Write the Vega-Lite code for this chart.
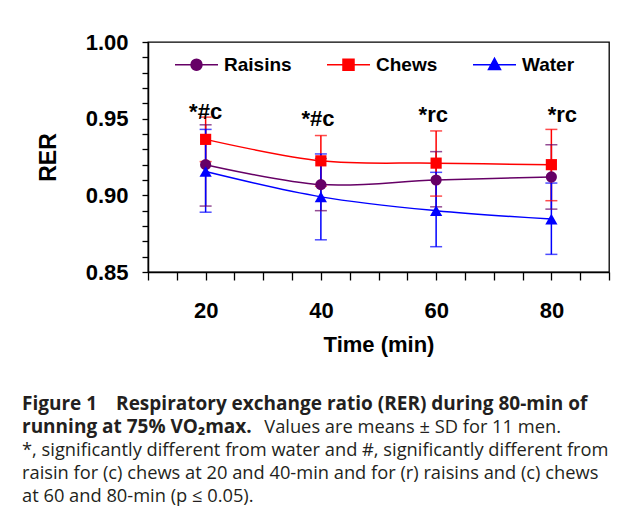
{
  "$schema": "https://vega.github.io/schema/vega-lite/v6.json",
  "width": 461,
  "height": 230,
  "autosize": {"type": "none"},
  "padding": {"left": 148, "top": 42, "right": 12, "bottom": 253},
  "background": "white",
  "config": {
    "view": {"stroke": "#000", "strokeWidth": 1.3},
    "font": "Liberation Sans",
    "axisX": {"values": [10, 20, 30, 40, 50, 60, 70, 80, 90], "tickCount": 12, "labelExpr": "datum.value % 20 == 0 ? datum.label : ''",
      "grid": false, "domainColor": "#000", "domainWidth": 1.5, "tickColor": "#000", "tickWidth": 1.3, "tickSize": 8,
      "labelFont": "Liberation Sans", "labelFontWeight": "bold", "labelFontSize": 22, "labelColor": "#000", "labelPadding": 20,
      "titleFont": "Liberation Sans", "titleFontWeight": "bold", "titleFontSize": 22, "titleColor": "#000", "titlePadding": 13,
      "labelOverlap": false},
    "axisY": {"values": [0.85, 0.86, 0.87, 0.88, 0.89, 0.9, 0.91, 0.92, 0.93, 0.94, 0.95, 0.96, 0.97, 0.98, 0.99, 1.0], "tickCount": 20,
      "labelExpr": "round(datum.value * 100) % 5 == 0 ? format(datum.value, '.2f') : ''",
      "grid": false, "domainColor": "#000", "domainWidth": 1.5, "tickColor": "#000", "tickWidth": 1.3, "tickSize": 6,
      "labelFont": "Liberation Sans", "labelFontWeight": "bold", "labelFontSize": 22, "labelColor": "#000", "labelPadding": 14,
      "titleFont": "Liberation Sans", "titleFontWeight": "bold", "titleFontSize": 23, "titleColor": "#000", "titlePadding": 25,
      "labelOverlap": false}
  },
  "title": {
    "text": ["Figure 1\u2003Respiratory exchange ratio (RER) during 80-min of", "running at 75% VO₂max."],
    "subtitle": ["\u200B\u2003\u2003\u2003\u2003\u2003\u2003\u2003\u2003\u2003\u2003\u2003\u2003\u2003\u2005Values are means ± SD for 11 men.", "*, significantly different from water and #, significantly different from", "raisin for (c) chews at 20 and 40-min and for (r) raisins and (c) chews", "at 60 and 80-min (p ≤ 0.05)."],
    "orient": "bottom",
    "anchor": "start",
    "frame": "group",
    "dx": -126,
    "offset": 40,
    "font": "Open Sans",
    "fontSize": 19,
    "fontWeight": "bold",
    "lineHeight": 23,
    "color": "#231f20",
    "subtitleFont": "Open Sans",
    "subtitleFontSize": 18.3,
    "subtitleFontWeight": "normal",
    "subtitleLineHeight": 23,
    "subtitlePadding": -18,
    "subtitleColor": "#231f20"
  },
  "datasets": {
    "rer": [
      {"series": "Raisins", "time": 20, "mean": 0.920, "lo": 0.893, "hi": 0.946},
      {"series": "Raisins", "time": 40, "mean": 0.907, "lo": 0.890, "hi": 0.924},
      {"series": "Raisins", "time": 60, "mean": 0.910, "lo": 0.8925, "hi": 0.9285},
      {"series": "Raisins", "time": 80, "mean": 0.912, "lo": 0.891, "hi": 0.933},
      {"series": "Chews", "time": 20, "mean": 0.9365, "lo": 0.922, "hi": 0.951},
      {"series": "Chews", "time": 40, "mean": 0.9225, "lo": 0.906, "hi": 0.939},
      {"series": "Chews", "time": 60, "mean": 0.921, "lo": 0.8995, "hi": 0.942},
      {"series": "Chews", "time": 80, "mean": 0.920, "lo": 0.8965, "hi": 0.943},
      {"series": "Water", "time": 20, "mean": 0.9155, "lo": 0.889, "hi": 0.943},
      {"series": "Water", "time": 40, "mean": 0.899, "lo": 0.871, "hi": 0.927},
      {"series": "Water", "time": 60, "mean": 0.890, "lo": 0.8665, "hi": 0.915},
      {"series": "Water", "time": 80, "mean": 0.8845, "lo": 0.8615, "hi": 0.908}
    ],
    "notes": [
      {"at": 20, "level": 0.9546, "label": "*#c"},
      {"at": 39.5, "level": 0.9496, "label": "*#c"},
      {"at": 59.5, "level": 0.9524, "label": "*rc"},
      {"at": 81.9, "level": 0.9524, "label": "*rc"}
    ]
  },
  "layer": [
    {
      "data": {"name": "rer"},
      "mark": {"type": "rule", "strokeWidth": 1.5},
      "encoding": {
        "x": {"field": "time", "type": "quantitative", "scale": {"domain": [10, 90], "nice": false}, "title": "Time (min)"},
        "y": {"field": "lo", "type": "quantitative", "scale": {"domain": [0.85, 1.0], "nice": false, "zero": false}, "title": "RER"},
        "y2": {"field": "hi"},
        "color": {"field": "series", "type": "nominal", "sort": ["Raisins", "Chews", "Water"],
          "scale": {"domain": ["Raisins", "Chews", "Water"], "range": ["#660066", "#ff0000", "#0000ff"]},
          "legend": {
            "orient": "none", "legendX": 26, "legendY": 0, "direction": "horizontal", "title": null, "padding": 0,
            "symbolSize": 1849, "columnPadding": 32, "labelOffset": 5,
            "labelFont": "Liberation Sans", "labelFontWeight": "bold", "labelFontSize": 19, "labelColor": "#000",
            "encode": {"symbols": {"update": {
              "shape": {"signal": "datum.value === 'Raisins' ? 'M-1,0H1M-0.256,0A0.256,0.256,0,1,0,0.256,0A0.256,0.256,0,1,0,-0.256,0Z' : datum.value === 'Chews' ? 'M-1,0H1M-0.256,-0.256H0.256V0.256H-0.256Z' : 'M-1,0H1M0,-0.3L0.28,0.22H-0.28Z'"},
              "stroke": {"signal": "scale('color', datum.value)"},
              "fill": {"signal": "scale('color', datum.value)"},
              "strokeWidth": {"value": 1.5},
              "opacity": {"value": 1},
              "fillOpacity": {"value": 1},
              "strokeOpacity": {"value": 1}
            }}}
          }}
      }
    },
    {
      "data": {"name": "rer"},
      "mark": {"type": "tick", "orient": "horizontal", "size": 12, "thickness": 1.5},
      "encoding": {
        "x": {"field": "time", "type": "quantitative", "title": "Time (min)"},
        "y": {"field": "lo", "type": "quantitative", "title": "RER"},
        "color": {"field": "series", "type": "nominal"}
      }
    },
    {
      "data": {"name": "rer"},
      "mark": {"type": "tick", "orient": "horizontal", "size": 12, "thickness": 1.5},
      "encoding": {
        "x": {"field": "time", "type": "quantitative", "title": "Time (min)"},
        "y": {"field": "hi", "type": "quantitative", "title": "RER"},
        "color": {"field": "series", "type": "nominal"}
      }
    },
    {
      "data": {"name": "rer"},
      "mark": {"type": "line", "interpolate": "catmull-rom", "strokeWidth": 1.5},
      "encoding": {
        "x": {"field": "time", "type": "quantitative", "title": "Time (min)"},
        "y": {"field": "mean", "type": "quantitative", "title": "RER"},
        "color": {"field": "series", "type": "nominal"},
        "detail": {"field": "series"}
      }
    },
    {
      "data": {"name": "rer"},
      "transform": [{"filter": "datum.series === 'Raisins'"}],
      "mark": {"type": "point", "shape": "circle", "filled": true, "opacity": 1, "size": 125},
      "encoding": {
        "x": {"field": "time", "type": "quantitative", "title": "Time (min)"},
        "y": {"field": "mean", "type": "quantitative", "title": "RER"},
        "color": {"field": "series", "type": "nominal"}
      }
    },
    {
      "data": {"name": "rer"},
      "transform": [{"filter": "datum.series === 'Chews'"}],
      "mark": {"type": "point", "shape": "square", "filled": true, "opacity": 1, "size": 125},
      "encoding": {
        "x": {"field": "time", "type": "quantitative", "title": "Time (min)"},
        "y": {"field": "mean", "type": "quantitative", "title": "RER"},
        "color": {"field": "series", "type": "nominal"}
      }
    },
    {
      "data": {"name": "rer"},
      "transform": [{"filter": "datum.series === 'Water'"}],
      "mark": {"type": "point", "shape": "triangle-up", "filled": true, "opacity": 1, "size": 150},
      "encoding": {
        "x": {"field": "time", "type": "quantitative", "title": "Time (min)"},
        "y": {"field": "mean", "type": "quantitative", "title": "RER"},
        "color": {"field": "series", "type": "nominal"}
      }
    },
    {
      "data": {"name": "notes"},
      "mark": {"type": "text", "font": "Liberation Sans", "fontWeight": "bold", "fontSize": 22, "baseline": "middle", "align": "center", "color": "#000"},
      "encoding": {
        "x": {"field": "at", "type": "quantitative", "title": "Time (min)"},
        "y": {"field": "level", "type": "quantitative", "title": "RER"},
        "text": {"field": "label"}
      }
    }
  ]
}
